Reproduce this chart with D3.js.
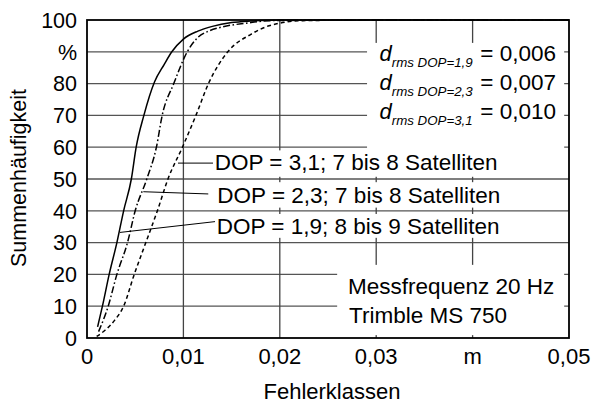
<!DOCTYPE html>
<html>
<head>
<meta charset="utf-8">
<script src="https://cdn.jsdelivr.net/npm/d3@7/dist/d3.min.js"></script>
<style>
  body { margin: 0; background: #fff; }
  text { font-family: "Liberation Sans", Arial, sans-serif; fill: #000; }
</style>
</head>
<body>
<svg id="chart" width="594" height="406"></svg>
<script>
// Summenhaeufigkeit der Fehlerklassen
var xTicks = [0, 0.01, 0.02, 0.03, 0.04, 0.05];
var xTickLabels = ["0", "0,01", "0,02", "0,03", "m", "0,05"];
var yTicks = [0, 10, 20, 30, 40, 50, 60, 70, 80, 90, 100];
var yTickLabels = ["0", "10", "20", "30", "40", "50", "60", "70", "80", "%", "100"];

var dop19X = [0.0011, 0.0016, 0.0023, 0.0031, 0.0038, 0.0046, 0.0051, 0.0059, 0.0070, 0.0080, 0.0088, 0.0100, 0.0115, 0.0130, 0.0150, 0.0170, 0.0200, 0.0300, 0.0500];
var dop19Y = [3.5, 10, 20, 30, 40, 50, 60, 70, 80.5, 86, 90, 94, 96.5, 98, 99.2, 99.7, 100, 100, 100];

var dop23X = [0.0012, 0.0022, 0.0031, 0.0042, 0.0050, 0.0062, 0.0072, 0.0078, 0.0090, 0.0104, 0.0115, 0.0127, 0.0140, 0.0165, 0.0190, 0.0300, 0.0500];
var dop23Y = [2, 10, 20, 30, 40, 50, 60, 70, 80, 90, 94.5, 96.6, 97.8, 99, 99.8, 100, 100];

var dop31X = [0.0010, 0.0019, 0.0029, 0.0038, 0.0049, 0.0061, 0.0073, 0.0084, 0.0099, 0.0113, 0.0126, 0.0146, 0.0170, 0.0189, 0.0200, 0.0224, 0.0300, 0.0500];
var dop31Y = [0.5, 2.5, 5.7, 10, 20, 30, 40, 50, 60, 70, 80, 90, 95.5, 98.2, 99, 99.8, 100, 100];

var seriesNames = ["DOP = 1,9; 8 bis 9 Satelliten", "DOP = 2,3; 7 bis 8 Satelliten", "DOP = 3,1; 7 bis 8 Satelliten"];
var rmsLabels = ["DOP=1,9", "DOP=2,3", "DOP=3,1"];
var rmsValues = ["0,006", "0,007", "0,010"];

var svg = d3.select("#chart");

var x = d3.scaleLinear().domain([0, 0.05]).range([87, 569]);
var y = d3.scaleLinear().domain([0, 100]).range([338, 20]);

var zip = function(xs, ys) {
  return xs.map(function(d, i) { return [d, ys[i]]; });
};

var line = d3.line()
    .x(function(d) { return x(d[0]); })
    .y(function(d) { return y(d[1]); })
    .curve(d3.curveMonotoneX);

// grid
var grid = svg.append("g").attr("class", "grid");
grid.selectAll("line.h")
    .data(yTicks.slice(1, -1))
    .enter().append("line")
    .attr("class", "h")
    .attr("x1", x(0)).attr("x2", x(0.05))
    .attr("y1", y).attr("y2", y)
    .attr("stroke", "#555").attr("stroke-width", 1.3);
grid.selectAll("line.v")
    .data(xTicks.slice(1, -1))
    .enter().append("line")
    .attr("class", "v")
    .attr("x1", x).attr("x2", x)
    .attr("y1", y(0)).attr("y2", y(100))
    .attr("stroke", "#444").attr("stroke-width", 1.3);

// curves
var series = [
  {pts: zip(dop19X, dop19Y), dash: null},
  {pts: zip(dop23X, dop23Y), dash: "7,2.5,1.6,2.5"},
  {pts: zip(dop31X, dop31Y), dash: "4,3"}
];
svg.append("g").selectAll("path")
    .data(series)
    .enter().append("path")
    .attr("d", function(d) { return line(d.pts); })
    .attr("fill", "none")
    .attr("stroke", "#000")
    .attr("stroke-width", 1.5)
    .attr("stroke-dasharray", function(d) { return d.dash; });

// white boxes under the annotations (they hide the grid)
var boxes = [
  [0.02905, 0.0495, 92.8, 57.1],   // d_rms block
  [0.01305, 0.0495, 59.0, 50.7],   // DOP 3,1
  [0.01258, 0.0495, 49.0, 41.0],   // DOP 2,3
  [0.01328, 0.0495, 39.0, 31.5],   // DOP 1,9
  [0.02595, 0.0495, 23.0, 0.9]     // Messfrequenz
];
svg.append("g").selectAll("rect")
    .data(boxes)
    .enter().append("rect")
    .attr("x", function(d) { return x(d[0]); })
    .attr("width", function(d) { return x(d[1]) - x(d[0]); })
    .attr("y", function(d) { return y(d[2]); })
    .attr("height", function(d) { return y(d[3]) - y(d[2]); })
    .attr("fill", "#fff");

// leader lines, curve -> label (data units)
var leaders = [
  [0.00342, 33.2, 0.01328, 36.6],
  [0.00584, 46.0, 0.01258, 45.3],
  [0.00944, 55.0, 0.01307, 55.0]
];
svg.append("g").selectAll("line")
    .data(leaders)
    .enter().append("line")
    .attr("x1", function(d) { return x(d[0]); })
    .attr("y1", function(d) { return y(d[1]); })
    .attr("x2", function(d) { return x(d[2]); })
    .attr("y2", function(d) { return y(d[3]); })
    .attr("stroke", "#000").attr("stroke-width", 1);

// series labels
var labelPos = [[0.01345, 35.3], [0.01352, 45.1], [0.01325, 55.3]];
svg.append("g").selectAll("text")
    .data(seriesNames)
    .enter().append("text")
    .attr("x", function(d, i) { return x(labelPos[i][0]); })
    .attr("y", function(d, i) { return y(labelPos[i][1]); })
    .attr("dy", "0.36em")
    .attr("font-size", 22.5)
    .text(function(d) { return d; });

// d_rms block
var rms = svg.append("g");
rmsLabels.forEach(function(lab, i) {
  var base = 61 + i * 29;
  var t = rms.append("text")
      .attr("x", 379.5)
      .attr("y", base)
      .attr("font-size", 22);
  t.append("tspan").attr("font-style", "italic").text("d");
  t.append("tspan")
      .attr("font-style", "italic")
      .attr("font-size", 13.3)
      .attr("dy", 6)
      .text("rms " + lab);
  rms.append("text")
      .attr("x", 556)
      .attr("y", base)
      .attr("text-anchor", "end")
      .attr("font-size", 22.5)
      .text("= " + rmsValues[i]);
});

svg.append("text")
    .attr("x", 348).attr("y", 294)
    .attr("font-size", 22.5)
    .text("Messfrequenz 20 Hz");
svg.append("text")
    .attr("x", 349).attr("y", 322.5)
    .attr("font-size", 22.5)
    .text("Trimble MS 750");

// frame
svg.append("rect")
    .attr("x", x(0)).attr("y", y(100))
    .attr("width", x(0.05) - x(0)).attr("height", y(0) - y(100))
    .attr("fill", "none").attr("stroke", "#000").attr("stroke-width", 1.8);

// tick labels
svg.append("g").selectAll("text")
    .data(xTicks)
    .enter().append("text")
    .attr("x", x)
    .attr("y", 364)
    .attr("text-anchor", "middle")
    .attr("font-size", 22)
    .text(function(d, i) { return xTickLabels[i]; });

svg.append("g").selectAll("text")
    .data(yTicks)
    .enter().append("text")
    .attr("x", 77)
    .attr("y", y)
    .attr("dy", "0.36em")
    .attr("text-anchor", "end")
    .attr("font-size", 21.5)
    .text(function(d, i) { return yTickLabels[i]; });

// axis titles
svg.append("text")
    .attr("x", 332).attr("y", 399)
    .attr("text-anchor", "middle")
    .attr("font-size", 22)
    .text("Fehlerklassen");
svg.append("text")
    .attr("transform", "translate(26,178) rotate(-90)")
    .attr("text-anchor", "middle")
    .attr("font-size", 21.5)
    .text("Summenhäufigkeit");
</script>
</body>
</html>
